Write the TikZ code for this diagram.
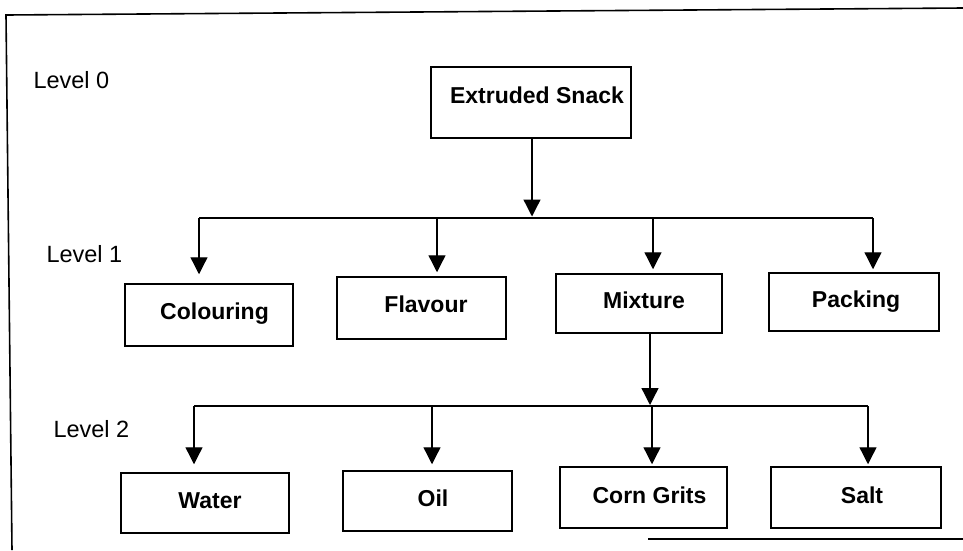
\documentclass[tikz,border=0pt]{standalone}
\usepackage{fontspec}
\setmainfont{Liberation Sans}
\usetikzlibrary{arrows.meta}
\begin{document}
\begin{tikzpicture}[x=1pt,y=-1pt,
  frame/.style={line width=1.6pt},
  box/.style={draw,line width=1.5pt,rectangle,inner sep=0pt},
  lbl/.style={anchor=base,font=\fontsize{23}{27}\selectfont\bfseries},
  lvl/.style={anchor=base west,font=\fontsize{23.5}{27}\selectfont},
  link/.style={line width=1.3pt},
  flow/.style={line width=1.3pt,-{Triangle[length=17pt,width=17pt]}}]
\useasboundingbox (0,0) rectangle (963,550);

% page frame
\draw[frame] (963,8) -- (6,15) -- (12,550);
\draw[line width=1.2pt] (648,539) -- (782,539);
\draw[line width=2.6pt] (782,539) -- (963,539);

% level captions
\node[lvl] (l0) at (30,88) {Level 0};
\node[lvl] (l1) at (43,262) {Level 1};
\node[lvl] (l2) at (50,437) {Level 2};

% boxes
\node[box,minimum width=200pt,minimum height=71pt] (ext) at (531,102.5) {};
\node[box,minimum width=168pt,minimum height=62pt] (col) at (209,315) {};
\node[box,minimum width=169pt,minimum height=62pt] (fla) at (421.5,308) {};
\node[box,minimum width=166pt,minimum height=59pt] (mix) at (639,303.5) {};
\node[box,minimum width=170pt,minimum height=58pt] (pac) at (854,302) {};
\node[box,minimum width=168pt,minimum height=60pt] (wat) at (205,503) {};
\node[box,minimum width=169pt,minimum height=60pt] (oil) at (427.5,501) {};
\node[box,minimum width=167pt,minimum height=61pt] (cor) at (643.5,497.5) {};
\node[box,minimum width=170pt,minimum height=61pt] (sal) at (856,497.5) {};

% box labels
\node[lbl] (text) at (537,103) {Extruded Snack};
\node[lbl] (tcol) at (214.5,319) {Colouring};
\node[lbl] (tfla) at (426,312) {Flavour};
\node[lbl] (tmix) at (644,308) {Mixture};
\node[lbl] (tpac) at (856,307) {Packing};
\node[lbl] (twat) at (210,508) {Water};
\node[lbl] (toil) at (433,506) {Oil};
\node[lbl] (tcor) at (649.5,503) {Corn Grits};
\node[lbl] (tsal) at (862,503) {Salt};

% level 1 bus
\coordinate (b1) at (532,218);
\coordinate (d1a) at (199,218);
\coordinate (d1b) at (437,218);
\coordinate (d1c) at (653,218);
\coordinate (d1d) at (873,218);
\draw[flow] (ext.south -| b1) -- ([yshift=1.5pt]b1);
\draw[link] (d1a) -- (d1d);
\draw[flow] (d1a) -- ([yshift=9pt]col.north -| d1a);
\draw[flow] (d1b) -- ([yshift=4pt]fla.north -| d1b);
\draw[flow] (d1c) -- ([yshift=4pt]mix.north -| d1c);
\draw[flow] (d1d) -- ([yshift=3pt]pac.north -| d1d);

% level 2 bus
\coordinate (b2) at (650,406);
\coordinate (d2a) at (194,406);
\coordinate (d2b) at (432,406);
\coordinate (d2c) at (652,406);
\coordinate (d2d) at (868,406);
\draw[flow] (mix.south -| b2) -- ([yshift=1pt]b2);
\draw[link] (d2a) -- (d2d);
\draw[flow] (d2a) -- ([yshift=8pt]wat.north -| d2a);
\draw[flow] (d2b) -- ([yshift=6pt]oil.north -| d2b);
\draw[flow] (d2c) -- ([yshift=2pt]cor.north -| d2c);
\draw[flow] (d2d) -- ([yshift=2pt]sal.north -| d2d);
\end{tikzpicture}
\end{document}
